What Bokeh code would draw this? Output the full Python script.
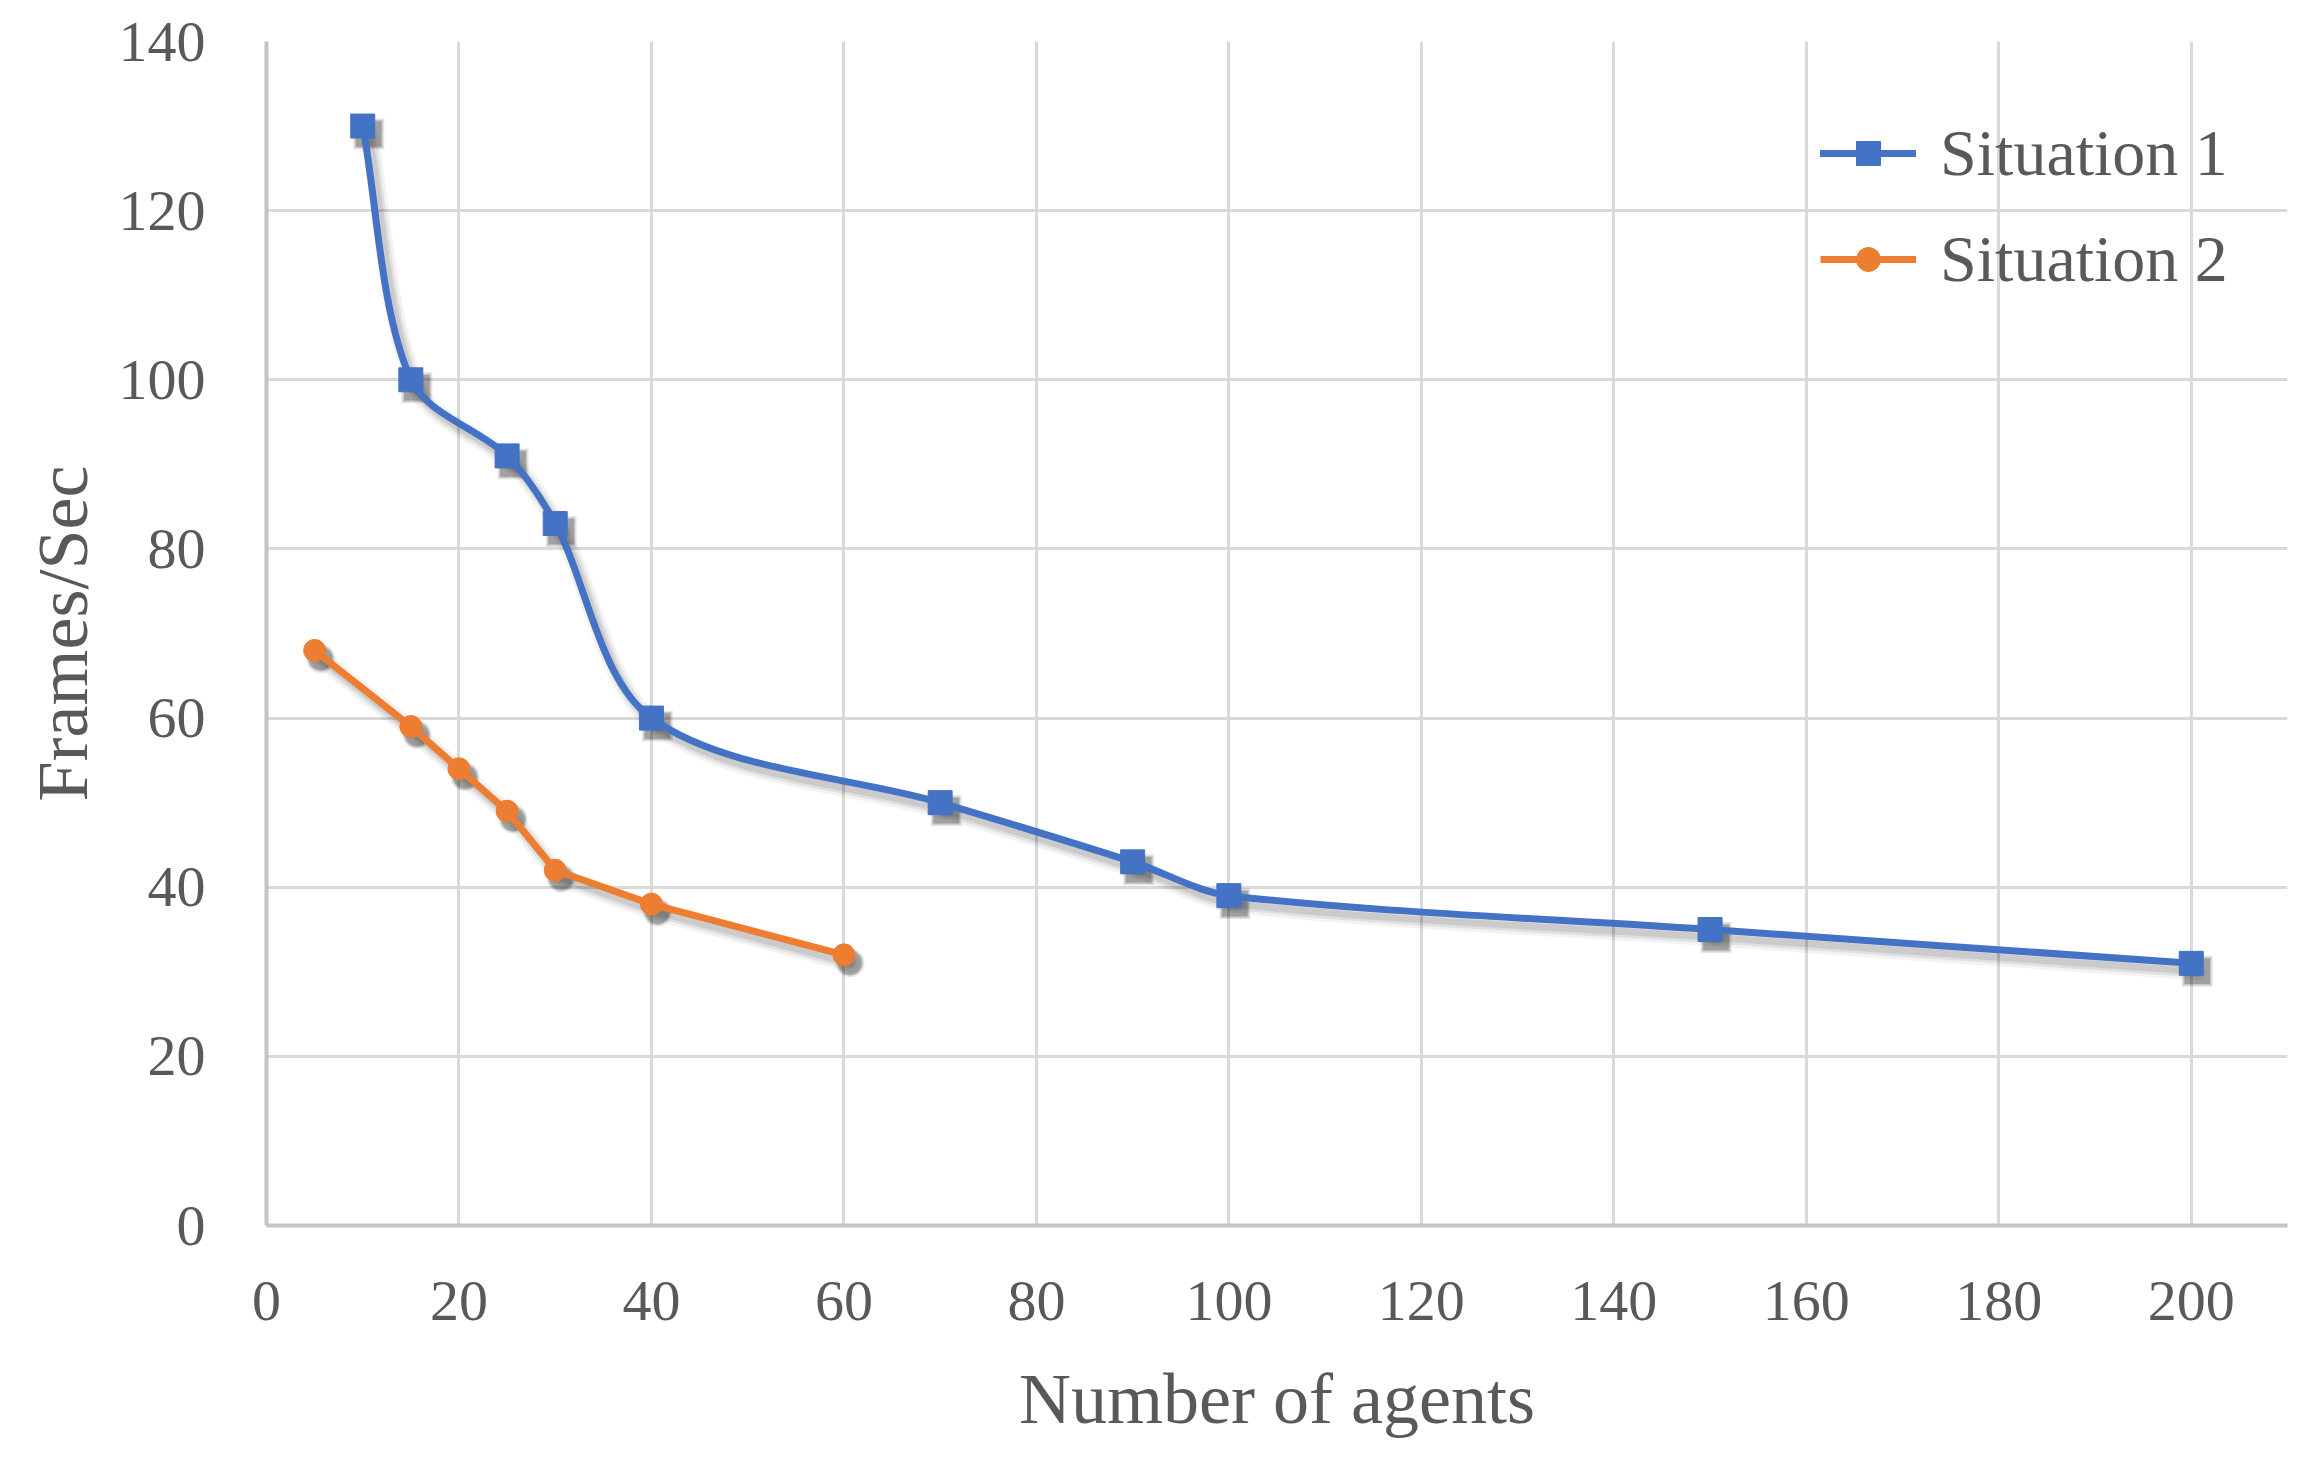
import numpy as np
from bokeh.plotting import figure
from bokeh.models import Range1d, FixedTicker, Legend, LegendItem, ColumnDataSource
from bokeh.embed import file_html
from bokeh.resources import INLINE

# ---- data ----
s1_agents = [10, 15, 25, 30, 40, 70, 90, 100, 150, 200]
s1_fps = [130, 100, 91, 83, 60, 50, 43, 39, 35, 31]
s2_agents = [5, 15, 20, 25, 30, 40, 60]
s2_fps = [68, 59, 54, 49, 42, 38, 32]
x_ticks = [0, 20, 40, 60, 80, 100, 120, 140, 160, 180, 200]
y_ticks = [0, 20, 40, 60, 80, 100, 120, 140]
series_names = ["Situation 1", "Situation 2"]

BLUE = "#4472C4"
ORANGE = "#ED7D31"
TEXT = "#595959"
FONT = "Liberation Serif"

W, H = 2306, 1459
ML, MT, MR, MB = 266, 41, 19, 234
FW, FH = W - ML - MR, H - MT - MB
XMAX, YMAX = 210, 140

p = figure(width=W, height=H, output_backend="svg", toolbar_location=None,
           x_range=Range1d(0, XMAX), y_range=Range1d(0, YMAX),
           min_border_left=ML, min_border_top=MT, min_border_right=MR,
           min_border_bottom=MB)
p.outline_line_color = None
p.background_fill_color = "white"

for ax in (p.xaxis[0], p.yaxis[0]):
    ax.major_tick_line_color = None
    ax.minor_tick_line_color = None
    ax.axis_line_color = "#c4c4c4"
    ax.axis_line_width = 4
    ax.major_label_text_font = FONT
    ax.major_label_text_font_size = "58px"
    ax.major_label_text_color = TEXT
    ax.axis_label_text_font = FONT
    ax.axis_label_text_font_style = "normal"
    ax.axis_label_text_color = TEXT
    ax.axis_label_text_font_size = "72px"

p.xaxis.ticker = FixedTicker(ticks=x_ticks)
p.yaxis.ticker = FixedTicker(ticks=y_ticks)
p.xaxis.axis_label = "Number of agents"
p.yaxis.axis_label = "Frames/Sec"
p.xaxis.major_label_standoff = 50
p.yaxis.major_label_standoff = 55
p.xaxis.axis_label_standoff = 36
p.yaxis.axis_label_standoff = 13

p.xgrid.ticker = FixedTicker(ticks=x_ticks[1:])
p.ygrid.ticker = FixedTicker(ticks=y_ticks[1:])
for g in (p.xgrid[0], p.ygrid[0]):
    g.grid_line_color = "#d9d9d9"
    g.grid_line_width = 3

# pixel scale factors (screen units per data unit)
kx = FW / XMAX
ky = FH / YMAX


def smooth_segments(xs, ys, s=0.3):
    # screen-space tangent-based cubic Bezier smoothing through the data points
    X = np.asarray(xs, float) * kx
    Y = np.asarray(ys, float) * ky
    n = len(X)
    T = []
    for i in range(n):
        a = max(i - 1, 0)
        b = min(i + 1, n - 1)
        tx, ty = X[b] - X[a], Y[b] - Y[a]
        L = np.hypot(tx, ty)
        T.append((tx / L, ty / L))
    out = {k: [] for k in ("x0", "y0", "x1", "y1", "cx0", "cy0", "cx1", "cy1")}
    for i in range(n - 1):
        d = np.hypot(X[i + 1] - X[i], Y[i + 1] - Y[i]) * s
        out["x0"].append(X[i] / kx); out["y0"].append(Y[i] / ky)
        out["x1"].append(X[i + 1] / kx); out["y1"].append(Y[i + 1] / ky)
        out["cx0"].append((X[i] + T[i][0] * d) / kx)
        out["cy0"].append((Y[i] + T[i][1] * d) / ky)
        out["cx1"].append((X[i + 1] - T[i + 1][0] * d) / kx)
        out["cy1"].append((Y[i + 1] - T[i + 1][1] * d) / ky)
    return out

# shadow offset (pixels -> data units)
dx, dy = 6 / kx, -8 / ky

seg1 = smooth_segments(s1_agents, s1_fps)
seg1_sh = {k: (np.array(v) + (dx if k.startswith(("x", "cx")) else dy)).tolist()
           for k, v in seg1.items()}

# soft drop shadows
for w, a in ((18, 0.05), (12, 0.07), (7, 0.09)):
    p.bezier(x0="x0", y0="y0", x1="x1", y1="y1", cx0="cx0", cy0="cy0", cx1="cx1", cy1="cy1",
             source=ColumnDataSource(seg1_sh), line_color="black", line_alpha=a,
             line_width=w, line_cap="round")
    p.line(np.array(s2_agents) + dx, np.array(s2_fps) + dy, line_color="black",
           line_alpha=a, line_width=w, line_join="round", line_cap="round")
    p.scatter(np.array(s1_agents) + dx, np.array(s1_fps) + dy, marker="square",
              size=22 + w / 2, fill_color="black", fill_alpha=a * 2, line_color=None)
    p.scatter(np.array(s2_agents) + dx, np.array(s2_fps) + dy, marker="circle",
              size=20 + w / 2, fill_color="black", fill_alpha=a * 2, line_color=None)

# series
b1 = p.bezier(x0="x0", y0="y0", x1="x1", y1="y1", cx0="cx0", cy0="cy0", cx1="cx1", cy1="cy1",
              source=ColumnDataSource(seg1), line_color=BLUE, line_width=7, line_cap="round")
m1 = p.scatter(s1_agents, s1_fps, marker="square", size=24, fill_color=BLUE, line_color=BLUE)
l2 = p.line(s2_agents, s2_fps, line_color=ORANGE, line_width=7, line_join="round")
m2 = p.scatter(s2_agents, s2_fps, marker="circle", size=22, fill_color=ORANGE, line_color=ORANGE)

legend = Legend(items=[LegendItem(label=series_names[0], renderers=[b1, m1]),
                       LegendItem(label=series_names[1], renderers=[l2, m2])],
                location=(1554, 928), orientation="vertical")
legend.background_fill_alpha = 0
legend.border_line_alpha = 0
legend.padding = 0
legend.margin = 0
legend.spacing = 30
legend.glyph_width = 96
legend.glyph_height = 60
legend.label_standoff = 24
legend.label_text_font = FONT
legend.label_text_font_size = "66px"
legend.label_text_color = TEXT
legend.click_policy = "none"
p.add_layout(legend, "center")

open("out.html", "w").write(file_html(p, INLINE))
